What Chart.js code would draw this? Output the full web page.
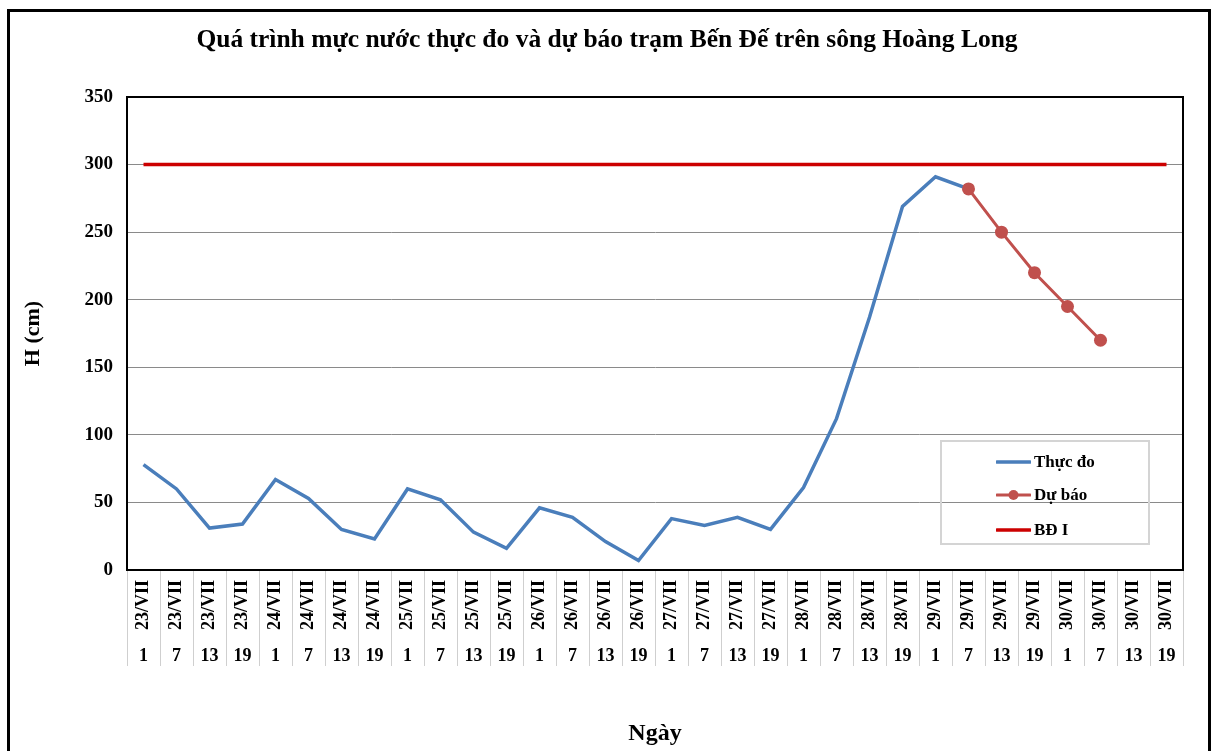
<!DOCTYPE html>
<html>
<head>
<meta charset="utf-8">
<script src="https://cdn.jsdelivr.net/npm/chart.js@4.4.1/dist/chart.umd.min.js"></script>
<style>
  html, body { margin: 0; padding: 0; background: #fff; }
  #wrap { position: relative; width: 1214px; height: 751px; overflow: hidden; }
  #c { position: absolute; left: 0; top: 0; }
  #frame { position: absolute; left: 7px; top: 9px; width: 1198px; height: 739px; border: 3px solid #000; pointer-events: none; }
  #legend { position: absolute; left: 940px; top: 440px; width: 206px; height: 101px; border: 2px solid #d4d4d4; font-family: 'Liberation Serif', 'Times New Roman', serif; font-weight: bold; font-size: 17px; color: #000; }
  .item { position: absolute; left: 54px; height: 20px; display: flex; align-items: center; }
  .item svg { display: block; margin-right: 3px; }
</style>
</head>
<body>
<div id="wrap">
  <canvas id="c" width="1214" height="751"></canvas>
  <div id="frame"></div>
  <div id="legend"></div>
</div>
<script>
const dateLabels = ['23/VII','23/VII','23/VII','23/VII','24/VII','24/VII','24/VII','24/VII',
                    '25/VII','25/VII','25/VII','25/VII','26/VII','26/VII','26/VII','26/VII',
                    '27/VII','27/VII','27/VII','27/VII','28/VII','28/VII','28/VII','28/VII',
                    '29/VII','29/VII','29/VII','29/VII','30/VII','30/VII','30/VII','30/VII'];
const hourLabels = ['1','7','13','19','1','7','13','19','1','7','13','19','1','7','13','19',
                    '1','7','13','19','1','7','13','19','1','7','13','19','1','7','13','19'];
const thucDo = [78,60,31,34,67,53,30,23,60,52,28,16,46,39,21,7,
                38,33,39,30,61,112,187,269,291,282,null,null,null,null,null,null];
const duBao = [null,null,null,null,null,null,null,null,null,null,null,null,null,null,null,null,
               null,null,null,null,null,null,null,null,null,282,250,220,195,170,null,null];
const bdI = [300,300,300,300,300,300,300,300,300,300,300,300,300,300,300,300,
             300,300,300,300,300,300,300,300,300,300,300,300,300,300,300,300];
const yMin = 0, yMax = 350, yStep = 50;

const FONT = "'Liberation Serif', 'Times New Roman', serif";

const plotBorder = {
  id: 'plotBorder',
  afterDraw(chart) {
    const a = chart.chartArea, ctx = chart.ctx;
    ctx.save();
    ctx.strokeStyle = '#000';
    ctx.lineWidth = 2;
    ctx.strokeRect(a.left, a.top, a.right - a.left, a.bottom - a.top);
    ctx.restore();
  }
};

const chart = new Chart(document.getElementById('c'), {
  type: 'line',
  data: {
    labels: dateLabels,
    datasets: [
      { label: 'Thực đo', data: thucDo, borderColor: '#4A7EBB', backgroundColor: '#4A7EBB', borderWidth: 3.5, pointRadius: 0, tension: 0, order: 1, spanGaps: false },
      { label: 'Dự báo', data: duBao, borderColor: '#C0504D', backgroundColor: '#C0504D', borderWidth: 3, pointRadius: 6.5, pointBorderWidth: 0, pointBackgroundColor: '#C0504D', tension: 0, order: 0 },
      { label: 'BĐ I', data: bdI, borderColor: '#CC0000', backgroundColor: '#CC0000', borderWidth: 3.5, pointRadius: 0, tension: 0, order: 2 }
    ]
  },
  options: {
    responsive: false,
    animation: false,
    devicePixelRatio: 1,
    layout: { padding: { left: 0, right: 0, top: 0, bottom: 0 } },
    plugins: {
      legend: { display: false },
      tooltip: { enabled: false },
      title: {
        display: true,
        text: 'Quá trình mực nước thực đo và dự báo trạm Bến Đế trên sông Hoàng Long',
        color: '#000',
        font: { family: FONT, size: 25.5, weight: 'bold', lineHeight: 1.2 },
        padding: { top: 25, bottom: 41.4 }
      }
    },
    scales: {
      x: {
        type: 'category',
        position: 'bottom',
        offset: true,
        weight: 0,
        grid: { display: true, drawOnChartArea: false, drawTicks: true, tickLength: 96, offset: true, color: '#cfcfcf', lineWidth: 1 },
        border: { display: true, color: '#000', width: 2 },
        ticks: { autoSkip: false, minRotation: 90, maxRotation: 90, padding: -86, color: '#000', font: { family: FONT, size: 18, weight: 'bold' } },
        afterFit(scale) { scale.height = 70; }
      },
      x2: {
        type: 'category',
        position: 'bottom',
        labels: hourLabels,
        offset: true,
        weight: 1,
        grid: { display: false, drawTicks: false },
        border: { display: false },
        ticks: { autoSkip: false, maxRotation: 0, minRotation: 0, padding: 6, color: '#000', font: { family: FONT, size: 18, weight: 'bold' } },
        title: { display: true, text: 'Ngày', color: '#000', font: { family: FONT, size: 24, weight: 'bold', lineHeight: 1.2 }, padding: { top: 0, bottom: 3 } },
        afterFit(scale) { scale.height = 111; }
      },
      y: {
        min: yMin, max: yMax,
        ticks: { stepSize: yStep, padding: 14, color: '#000', font: { family: FONT, size: 19, weight: 'bold' } },
        grid: { color: '#8a8a8a', lineWidth: 1, drawTicks: false },
        border: { display: true, color: '#000', width: 2 },
        title: { display: true, text: 'H (cm)', color: '#000', font: { family: FONT, size: 22, weight: 'bold', lineHeight: 1.2 }, padding: { top: 20, bottom: 0 } },
        afterFit(scale) { scale.width = 127; }
      },
      yRight: {
        position: 'right',
        min: yMin, max: yMax,
        ticks: { display: false },
        grid: { display: false, drawTicks: false },
        border: { display: false },
        afterFit(scale) { scale.width = 31; }
      }
    }
  },
  plugins: [plotBorder]
});

// HTML legend built from the chart's datasets
const legendOrder = [0, 1, 2];
const rowTops = [10, 43, 78];
const legendEl = document.getElementById('legend');
legendOrder.forEach((di, k) => {
  const ds = chart.data.datasets[di];
  const item = document.createElement('div');
  item.className = 'item';
  item.style.top = rowTops[k] + 'px';
  const svgNS = 'http://www.w3.org/2000/svg';
  const svg = document.createElementNS(svgNS, 'svg');
  svg.setAttribute('width', '35'); svg.setAttribute('height', '16');
  const line = document.createElementNS(svgNS, 'line');
  line.setAttribute('x1', '1'); line.setAttribute('x2', '34');
  line.setAttribute('y1', '8'); line.setAttribute('y2', '8');
  line.setAttribute('stroke', ds.borderColor);
  line.setAttribute('stroke-width', ds.borderWidth);
  line.setAttribute('stroke-linecap', 'round');
  svg.appendChild(line);
  if (ds.pointRadius > 0) {
    const c = document.createElementNS(svgNS, 'circle');
    c.setAttribute('cx', '17.5'); c.setAttribute('cy', '8'); c.setAttribute('r', '5');
    c.setAttribute('fill', ds.pointBackgroundColor);
    svg.appendChild(c);
  }
  item.appendChild(svg);
  const t = document.createElement('span');
  t.textContent = ds.label;
  item.appendChild(t);
  legendEl.appendChild(item);
});
</script>
</body>
</html>
